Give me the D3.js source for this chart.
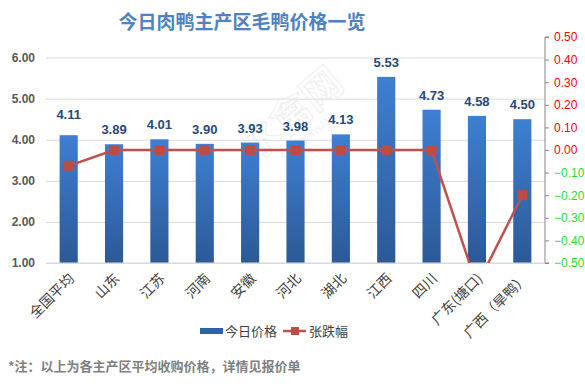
<!DOCTYPE html>
<html>
<head>
<meta charset="utf-8">
<script src="https://cdn.jsdelivr.net/npm/d3@7/dist/d3.min.js"></script>
<style>
  body { margin: 0; background: #fff; }
  svg { display: block; font-family: "Noto Sans CJK SC", "Noto Sans", sans-serif; }
</style>
</head>
<body>
<svg id="chart" width="585" height="387"></svg>
<script>
const categories = ['全国平均', '山东', '江苏', '河南', '安徽', '河北', '湖北', '江西', '四川', '广东(塘口)', '广西（旱鸭）'];
const prices = [4.11, 3.89, 4.01, 3.90, 3.93, 3.98, 4.13, 5.53, 4.73, 4.58, 4.50];
const changes = [-0.07, 0, 0, 0, 0, 0, 0, 0, 0, -0.60, -0.20];
const leftTicks = [1, 2, 3, 4, 5, 6];
const rightTicks = [0.5, 0.4, 0.3, 0.2, 0.1, 0, -0.1, -0.2, -0.3, -0.4, -0.5];

const svg = d3.select('#chart');
const plot = { left: 46, right: 545, top: 37, bottom: 263 };

const x = d3.scaleBand().domain(categories).range([plot.left, plot.right]).padding(0);
const y = d3.scaleLinear().domain([1, 6.5]).range([plot.bottom, plot.top]);
const y2 = d3.scaleLinear().domain([-0.5, 0.5]).range([plot.bottom, plot.top]);

// gradient for bars
const defs = svg.append('defs');
const grad = defs.append('linearGradient').attr('id', 'barGrad')
  .attr('x1', 0).attr('y1', 0).attr('x2', 0).attr('y2', 1);
grad.append('stop').attr('offset', '0%').attr('stop-color', '#3e7fd2');
grad.append('stop').attr('offset', '100%').attr('stop-color', '#2c5996');
defs.append('clipPath').attr('id', 'plotClip').append('rect')
  .attr('x', plot.left).attr('y', plot.top)
  .attr('width', plot.right - plot.left).attr('height', plot.bottom - plot.top);

// title
svg.append('text')
  .attr('x', 242).attr('y', 29)
  .attr('text-anchor', 'middle')
  .style('font-size', '19px').style('font-weight', 'bold')
  .style('fill', '#4f82c0')
  .text('今日肉鸭主产区毛鸭价格一览');

// watermark
const wm = svg.append('g').attr('transform', 'translate(300,125) rotate(-40)').style('opacity', 0.35);
wm.append('text').attr('text-anchor', 'middle')
  .style('font-size', '40px').style('font-weight', 'bold')
  .style('fill', 'none').style('stroke', '#d0d0d0').style('stroke-width', 1)
  .text('水禽网');
wm.append('text').attr('y', 18).attr('text-anchor', 'middle')
  .style('font-size', '10px').style('fill', '#dcdcdc')
  .text('SHUIQINWANG');

// left axis gridlines + labels
const yAxis = d3.axisLeft(y).tickValues(leftTicks)
  .tickSize(-(plot.right - plot.left)).tickFormat(d3.format('.2f'));
const ga = svg.append('g').attr('transform', `translate(${plot.left},0)`).call(yAxis);
ga.select('.domain').remove();
ga.selectAll('line').attr('stroke', '#d9d9d9');
ga.selectAll('text').attr('x', -11)
  .style('font-size', '12px').style('font-weight', 'bold').style('fill', '#595959')
  .style('font-family', '"Liberation Sans", "Noto Sans", sans-serif');

// bars
const barW = x.bandwidth() * 0.4;
svg.append('g').selectAll('rect')
  .data(prices)
  .join('rect')
  .attr('x', (d, i) => x(categories[i]) + (x.bandwidth() - barW) / 2)
  .attr('y', d => y(d))
  .attr('width', barW)
  .attr('height', d => y(1) - y(d))
  .attr('fill', 'url(#barGrad)');

// bar labels
svg.append('g').selectAll('text')
  .data(prices)
  .join('text')
  .attr('x', (d, i) => x(categories[i]) + x.bandwidth() / 2)
  .attr('y', (d, i) => y(d) - (i === 0 ? 16 : 10))
  .attr('text-anchor', 'middle')
  .style('font-size', '13px').style('font-weight', 'bold').style('fill', '#264a78')
  .style('font-family', '"Liberation Sans", "Noto Sans", sans-serif')
  .text(d => d.toFixed(2));

// right axis
const y2Axis = d3.axisRight(y2).tickValues(rightTicks).tickSize(4).tickFormat(d3.format('.2f'));
const gr = svg.append('g').attr('transform', `translate(${plot.right},0)`).call(y2Axis);
gr.select('.domain').attr('stroke', '#868686').attr('d', `M4,${plot.top}H0V${plot.bottom}H4`);
gr.selectAll('line').attr('stroke', '#868686');
gr.selectAll('text').attr('x', 9)
  .style('font-size', '12px')
  .style('font-family', '"Liberation Sans", "Noto Sans", sans-serif')
  .style('fill', d => d < 0 ? '#1fe01f' : '#ff0000');

// x axis baseline
svg.append('line')
  .attr('x1', plot.left).attr('x2', plot.right)
  .attr('y1', plot.bottom).attr('y2', plot.bottom)
  .attr('stroke', '#d9d9d9');

// x labels
svg.append('g').selectAll('text')
  .data(categories)
  .join('text')
  .attr('transform', d => `translate(${x(d) + x.bandwidth() / 2 + 3},${plot.bottom + 13}) rotate(-45)`)
  .attr('text-anchor', 'end')
  .attr('dy', '0.35em')
  .style('font-size', '14px').style('fill', '#404040')
  .text(d => d);

// change line
const lineGen = d3.line()
  .x((d, i) => x(categories[i]) + x.bandwidth() / 2)
  .y(d => y2(d));
const lg = svg.append('g').attr('clip-path', 'url(#plotClip)');
lg.append('path')
  .datum(changes)
  .attr('d', lineGen)
  .attr('fill', 'none')
  .attr('stroke', '#c0504d')
  .attr('stroke-width', 2.5);
lg.selectAll('rect')
  .data(changes)
  .join('rect')
  .attr('x', (d, i) => x(categories[i]) + x.bandwidth() / 2 - 5)
  .attr('y', d => y2(d) - 5)
  .attr('width', 10).attr('height', 10)
  .attr('fill', '#be4b48');

// legend
const leg = svg.append('g').attr('transform', 'translate(0,331)');
leg.append('rect').attr('x', 200).attr('y', -3).attr('width', 23).attr('height', 6).attr('fill', '#2f62a8');
leg.append('text').attr('x', 225).attr('y', 0).attr('dy', '0.35em')
  .style('font-size', '13px').style('fill', '#404040').text('今日价格');
leg.append('line').attr('x1', 283).attr('x2', 306).attr('y1', 0).attr('y2', 0)
  .attr('stroke', '#c0504d').attr('stroke-width', 2.5);
leg.append('rect').attr('x', 291).attr('y', -4).attr('width', 8).attr('height', 8).attr('fill', '#be4b48');
leg.append('text').attr('x', 309).attr('y', 0).attr('dy', '0.35em')
  .style('font-size', '13px').style('fill', '#404040').text('张跌幅');

// footnote
svg.append('text')
  .attr('x', 8).attr('y', 371)
  .style('font-size', '13px').style('font-weight', 'bold').style('fill', '#7f7f7f')
  .text('*注：以上为各主产区平均收购价格，详情见报价单');
</script>
</body>
</html>
